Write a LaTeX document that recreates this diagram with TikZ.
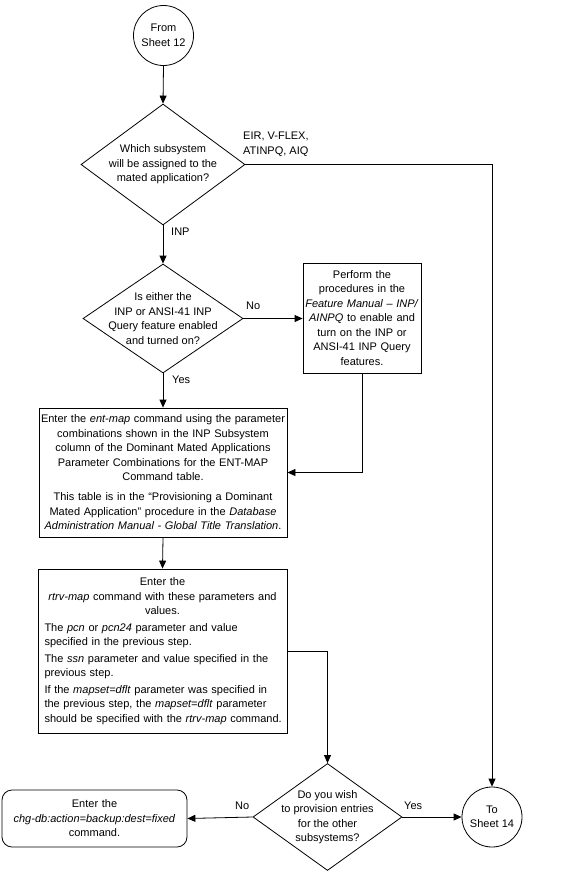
\documentclass[tikz,border=0pt]{standalone}
\usepackage{fontspec}
\setmainfont{Liberation Sans}
\usetikzlibrary{shapes.geometric,arrows.meta}
\begin{document}
\begin{tikzpicture}[x=1pt,y=-1pt,
  every node/.style={font=\fontsize{11}{14.5}\selectfont},
  line/.style={draw=black,line width=0.8pt},
  arr/.style={line,-{Triangle[length=8pt,width=7pt]}},
  dia/.style={draw=black,line width=0.8pt,diamond,inner sep=0pt},
  dtext/.style={align=center,inner sep=0pt},
  proc/.style={draw=black,line width=0.8pt,rectangle,inner ysep=0pt},
  conn/.style={draw=black,line width=0.8pt,circle,minimum size=60pt,inner sep=0pt,align=center},
  lbl/.style={inner sep=0pt,anchor=west,align=left}]
\useasboundingbox (0,0) rectangle (575,873);

\node[conn] (from) at (163.5,35.5) {From\\Sheet 12};

\node[dia,minimum width=164pt,minimum height=121pt] (d1) at (163,164.5) {};
\node[dtext] (d1t) at (d1.center) {Which subsystem\\will be assigned to the\\mated application?};

\node[dia,minimum width=160pt,minimum height=109pt] (d2) at (163,318.5) {};
\node[dtext] (d2t) at (d2.center) {Is either the\\INP or ANSI-41 INP\\Query feature enabled\\and turned on?};

\node[proc,minimum width=118pt,minimum height=110pt,text width=114pt,inner xsep=2pt,align=center] (perf) at (362,318) {Perform the\\procedures in the\\\textit{Feature Manual -- INP/}\\\textit{AINPQ} to enable and\\turn on the INP or\\ANSI-41 INP Query\\features.};

\node[proc,minimum width=248pt,minimum height=129pt,text width=244pt,inner xsep=2pt,align=center] (ent) at (163,472.5) {Enter the \textit{ent-map} command using the parameter\\combinations shown in the INP Subsystem\\column of the Dominant Mated Applications\\Parameter Combinations for the ENT-MAP\\Command table.\par\vspace{5.5pt}This table is in the \textquotedblleft Provisioning a Dominant\\Mated Application\textquotedblright{} procedure in the \textit{Database}\\\textit{Administration Manual - Global Title Translation}.};

\node[proc,minimum width=249pt,minimum height=164pt,text width=236pt,inner xsep=6.5pt,align=left] (rtrv) at (162.5,651) {\setlength{\parskip}{2pt}{\centering Enter the\\\mbox{\textit{rtrv-map} command with these parameters and}\\values.\par}\mbox{The \textit{pcn} or \textit{pcn24} parameter and value}\\\mbox{specified in the previous step.}\par \mbox{The \textit{ssn} parameter and value specified in the}\\\mbox{previous step.}\par \mbox{If the \textit{mapset=dflt} parameter was specified in}\\\mbox{the previous step, the \textit{mapset=dflt} parameter}\\\mbox{should be specified with the \textit{rtrv-map} command.}};

\node[dia,minimum width=149pt,minimum height=107pt] (d3) at (327.5,817) {};
\node[dtext] (d3t) at (d3.center) {Do you wish\\to provision entries\\for the other\\subsystems?};

\node[proc,rounded corners=10pt,minimum width=185pt,minimum height=57pt,text width=180pt,inner xsep=2pt,align=center] (endb) at (94.5,818.5) {Enter the\\\textit{chg-db:action=backup:dest=fixed}\\command.};

\node[conn] (to) at (492,817) {To\\Sheet 14};

\draw[arr] (from.south) -- (d1.north);
\draw[arr] (d1.east) -| (to.north);
\draw[arr] (d1.south) -- (d2.north);
\draw[arr] (d2.east) -- (d2.east -| perf.west);
\draw[arr] (perf.south) |- (ent.east);
\draw[arr] (d2.south) -- (ent.north);
\draw[arr] (ent.south) -- (rtrv.north);
\draw[arr] (rtrv.east) -| (d3.north);
\draw[arr] (d3.west) -- (endb.east);
\draw[arr] (d3.east) -- (to.west);

\node[lbl] (l1) at (243,144.5) {EIR, V-FLEX,\\ATINPQ, AIQ};
\node[lbl] (l2) at (171,232) {INP};
\node[lbl] (l3) at (246,306) {No};
\node[lbl] (l4) at (172,380) {Yes};
\node[lbl] (l5) at (235,806) {No};
\node[lbl] (l6) at (404,806) {Yes};
\end{tikzpicture}
\end{document}
